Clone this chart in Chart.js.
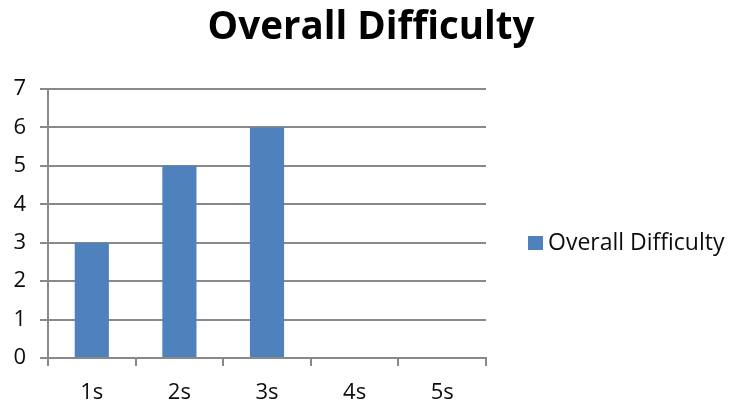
<!DOCTYPE html>
<html>
<head>
<meta charset="utf-8">
<script src="https://cdn.jsdelivr.net/npm/chart.js@4.4.1/dist/chart.umd.min.js"></script>
<style>
html,body{margin:0;padding:0;background:#fff;}
#wrap{width:731px;height:404px;}
</style>
</head>
<body>
<div id="wrap"><canvas id="c" width="731" height="404"></canvas></div>
<script>
const categories = ['1s', '2s', '3s', '4s', '5s'];
const seriesName = 'Overall Difficulty';
const difficultyValues = [3, 5, 6, 0, 0];
const yTicks = [0, 1, 2, 3, 4, 5, 6, 7];

const FONT = '"Open Sans", sans-serif';
const gridColor = '#898989';
const textColor = '#0d0d0d';
const barColor = '#4f81bd';

const sideLegend = {
  id: 'sideLegend',
  afterDraw(chart) {
    const ctx = chart.ctx;
    const area = chart.chartArea;
    const ds = chart.data.datasets[0];
    const bx = area.right + 42;
    const cy = 243;
    ctx.save();
    ctx.fillStyle = ds.backgroundColor;
    ctx.fillRect(bx, cy - 7, 15, 14);
    ctx.fillStyle = textColor;
    ctx.font = '23px ' + FONT;
    ctx.textBaseline = 'middle';
    ctx.textAlign = 'left';
    ctx.fillText(ds.label, bx + 20, cy);
    ctx.restore();
  }
};

new Chart(document.getElementById('c'), {
  type: 'bar',
  data: {
    labels: categories,
    datasets: [{
      label: seriesName,
      data: difficultyValues,
      backgroundColor: barColor,
      borderWidth: 0,
      categoryPercentage: 1,
      barPercentage: 0.39
    }]
  },
  plugins: [sideLegend],
  options: {
    responsive: false,
    animation: false,
    layout: { padding: { left: 11, right: 0, top: 0, bottom: 0 } },
    plugins: {
      title: {
        display: true,
        text: seriesName,
        color: '#000',
        font: { family: FONT, size: 38.5, weight: 'bold', lineHeight: 1.2 },
        padding: { top: 5, bottom: 37.8 }
      },
      legend: { display: false },
      tooltip: { enabled: false }
    },
    scales: {
      x: {
        grid: { display: true, drawOnChartArea: false, drawTicks: true, tickLength: 8, color: gridColor, lineWidth: 2, offset: true },
        border: { display: true, color: gridColor, width: 2 },
        ticks: { color: textColor, font: { family: FONT, size: 22 }, padding: 14 },
        afterFit: s => { s.height = 46; }
      },
      y: {
        min: 0,
        max: 7,
        afterBuildTicks: s => { s.ticks = yTicks.map(v => ({ value: v })); },
        grid: { color: gridColor, lineWidth: 2, tickLength: 8 },
        border: { display: true, color: gridColor, width: 2 },
        ticks: { color: textColor, font: { family: FONT, size: 22 }, padding: 14 },
        afterFit: s => { s.width = 37; }
      },
      gap: {
        position: 'right',
        display: true,
        grid: { display: false },
        border: { display: false },
        ticks: { display: false },
        afterFit: s => { s.width = 245; }
      }
    }
  }
});
</script>
</body>
</html>
